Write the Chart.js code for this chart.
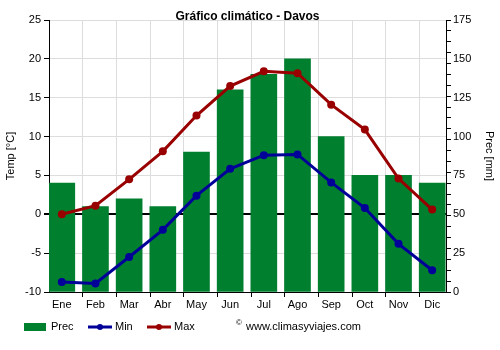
<!DOCTYPE html>
<html>
<head>
<meta charset="utf-8">
<script src="https://cdn.jsdelivr.net/npm/chart.js@4.4.0/dist/chart.umd.min.js"></script>
<style>
  html, body { margin: 0; padding: 0; background: #fff; }
</style>
</head>
<body>
<canvas id="chart" width="500" height="350"></canvas>
<script>
const chartTitle = 'Gráfico climático - Davos';
const months = ['Ene', 'Feb', 'Mar', 'Abr', 'May', 'Jun', 'Jul', 'Ago', 'Sep', 'Oct', 'Nov', 'Dic'];
const precip = [70, 55, 60, 55, 90, 130, 140, 150, 100, 75, 75, 70];
const tempMin = [-8.7, -8.9, -5.5, -2.0, 2.4, 5.85, 7.6, 7.7, 4.1, 0.8, -3.8, -7.2];
const tempMax = [0.0, 1.1, 4.5, 8.1, 12.7, 16.5, 18.4, 18.15, 14.1, 10.9, 4.6, 0.6];
const tempTicks = [-10, -5, 0, 5, 10, 15, 20, 25];
const precTicks = [0, 25, 50, 75, 100, 125, 150, 175];
const precMinorStep = 7;

const FONT = '"Liberation Sans", Arial, sans-serif';
const GREEN = '#007f2f';
const BLUE = '#000099';
const RED = '#990000';

// category boundaries sit a bit right of the half-way point in the original
const xMin = -0.38;
const xMax = 11.41;
const boundaries = months.slice(1).map((m, i) => i + 0.62);

const toPoints = arr => arr.map((v, i) => ({ x: i, y: v }));

// title, legend and credit line
const decorations = {
  id: 'decorations',
  afterDraw(chart) {
    const ctx = chart.ctx;
    const area = chart.chartArea;
    ctx.save();
    ctx.fillStyle = '#000';
    ctx.textBaseline = 'middle';

    ctx.font = 'bold 12px ' + FONT;
    ctx.textAlign = 'center';
    ctx.fillText(chartTitle, (area.left + area.right) / 2, 17);

    ctx.textAlign = 'left';
    ctx.font = '11px ' + FONT;
    const y = 327;
    const items = [
      { ds: chart.data.datasets[0], x: 24 },
      { ds: chart.data.datasets[1], x: 88 },
      { ds: chart.data.datasets[2], x: 147 }
    ];
    items.forEach(({ ds, x }) => {
      if (ds.type === 'bar') {
        ctx.fillStyle = ds.backgroundColor;
        ctx.fillRect(x, y - 4, 22, 8);
        ctx.fillStyle = '#000';
        ctx.fillText(ds.label, x + 27, y);
      } else {
        ctx.strokeStyle = ds.borderColor;
        ctx.lineWidth = 3;
        ctx.beginPath();
        ctx.moveTo(x, y);
        ctx.lineTo(x + 24, y);
        ctx.stroke();
        ctx.fillStyle = ds.borderColor;
        ctx.beginPath();
        ctx.arc(x + 12, y, 3, 0, Math.PI * 2);
        ctx.fill();
        ctx.fillStyle = '#000';
        ctx.fillText(ds.label, x + 27, y);
      }
    });

    ctx.font = '8px ' + FONT;
    ctx.fillText('©', 236, 323);
    ctx.font = '11px ' + FONT;
    ctx.fillText('www.climasyviajes.com', 246, y);
    ctx.restore();
  }
};

new Chart(document.getElementById('chart'), {
  data: {
    datasets: [
      {
        type: 'bar',
        label: 'Prec',
        data: toPoints(precip),
        backgroundColor: GREEN,
        borderWidth: 0,
        barThickness: 26,
        yAxisID: 'y1',
        order: 3
      },
      {
        type: 'line',
        label: 'Min',
        data: toPoints(tempMin),
        borderColor: BLUE,
        backgroundColor: BLUE,
        borderWidth: 3,
        pointRadius: 4,
        pointBorderWidth: 0,
        yAxisID: 'y',
        order: 2
      },
      {
        type: 'line',
        label: 'Max',
        data: toPoints(tempMax),
        borderColor: RED,
        backgroundColor: RED,
        borderWidth: 3,
        pointRadius: 4,
        pointBorderWidth: 0,
        yAxisID: 'y',
        order: 1
      }
    ]
  },
  options: {
    responsive: false,
    animation: false,
    layout: { padding: { top: 20, bottom: 36, left: 0, right: 0 } },
    plugins: {
      legend: { display: false },
      title: { display: false },
      tooltip: { enabled: false }
    },
    scales: {
      x: {
        type: 'linear',
        offset: false,
        min: xMin,
        max: xMax,
        afterBuildTicks: scale => {
          scale.ticks = months.map((m, i) => ({ value: i }))
            .concat(boundaries.map(v => ({ value: v })))
            .sort((a, b) => a.value - b.value);
        },
        afterFit: scale => { scale.height = 22; },
        ticks: {
          autoSkip: false,
          maxRotation: 0,
          padding: 1,
          color: '#000',
          font: { family: FONT, size: 11 },
          callback: value => Number.isInteger(value) ? months[value] : ''
        },
        grid: {
          offset: false,
          color: c => c.tick && Number.isInteger(c.tick.value) ? 'rgba(0,0,0,0)' : '#dddddd',
          tickColor: c => c.tick && Number.isInteger(c.tick.value) ? 'rgba(0,0,0,0)' : '#000',
          tickLength: 5
        },
        border: { color: '#000' }
      },
      y: {
        position: 'left',
        min: -10,
        max: 25,
        afterBuildTicks: scale => { scale.ticks = tempTicks.map(v => ({ value: v })); },
        afterFit: scale => { scale.width = 49; },
        ticks: {
          color: '#000',
          padding: 3,
          font: { family: FONT, size: 11 }
        },
        grid: {
          color: c => c.tick && c.tick.value === 0 ? '#000' : '#dddddd',
          lineWidth: c => c.tick && c.tick.value === 0 ? 2 : 1,
          tickColor: '#000',
          tickLength: 5
        },
        border: { color: '#000' },
        title: {
          display: true,
          text: 'Temp [°C]',
          color: '#000',
          padding: { top: 4 },
          font: { family: FONT, size: 11 }
        }
      },
      y1: {
        position: 'right',
        min: 0,
        max: 175,
        afterBuildTicks: scale => {
          const vals = new Set(precTicks);
          for (let v = 0; v <= 175; v += precMinorStep) vals.add(v);
          scale.ticks = [...vals].sort((a, b) => a - b).map(v => ({ value: v }));
        },
        afterFit: scale => { scale.width = 54; },
        ticks: {
          autoSkip: false,
          color: '#000',
          padding: 2,
          font: { family: FONT, size: 11 },
          callback: value => precTicks.includes(value) ? value : ''
        },
        grid: {
          drawOnChartArea: false,
          tickLength: 5,
          tickColor: c => c.tick && c.tick.value % precMinorStep === 0 ? '#000' : 'rgba(0,0,0,0)'
        },
        border: { color: '#000' },
        title: {
          display: true,
          text: 'Prec [mm]',
          color: '#000',
          padding: { top: 4 },
          font: { family: FONT, size: 11 }
        }
      }
    }
  },
  plugins: [decorations]
});
</script>
</body>
</html>
